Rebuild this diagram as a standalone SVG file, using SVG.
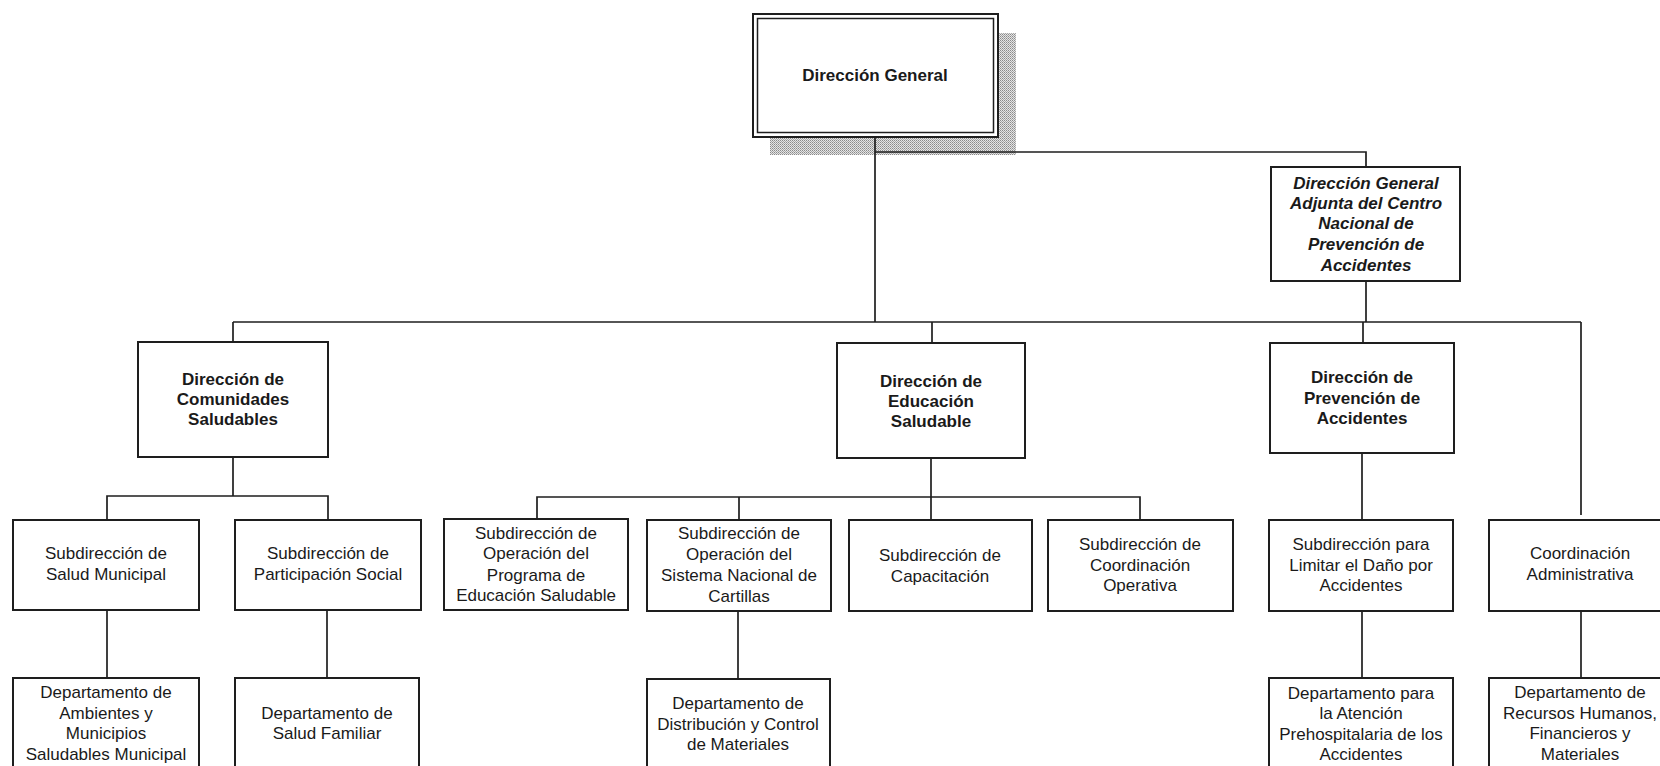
<svg xmlns="http://www.w3.org/2000/svg" width="1660" height="766" viewBox="0 0 1660 766">
  <defs>
    <!-- fine stipple used for the drop shadow of the head box -->
    <pattern id="stipple" width="2" height="2" patternUnits="userSpaceOnUse">
      <rect width="2" height="2" fill="#e4e4e4"/>
      <rect width="1" height="1" fill="#8a8a8a"/>
      <rect x="1" y="1" width="1" height="1" fill="#a8a8a8"/>
    </pattern>
  </defs>
  <style>
    .box { fill: #ffffff; stroke: #1e1e1e; stroke-width: 2; }
    .wire { fill: none; stroke: #1e1e1e; stroke-width: 1.7; }
    text { font-family: "Liberation Sans", Arial, sans-serif; font-size: 17px; fill: #1a1a1a; text-anchor: middle; }
    .b { font-weight: bold; }
    .bi { font-weight: bold; font-style: italic; }
  </style>

  <rect width="1660" height="766" fill="#ffffff"/>

  <!-- head box with shadow and double frame -->
  <g id="direccion-general">
    <rect x="770" y="33" width="246" height="122" fill="url(#stipple)"/>
    <rect class="box" x="753" y="14" width="245" height="123"/>
    <rect x="757.5" y="18.5" width="236" height="114" fill="none" stroke="#1e1e1e" stroke-width="1.5"/>
    <text class="b" x="875" y="81">Dirección General</text>
  </g>

  <!-- connectors -->
  <g id="connectors" class="wire">
    <path d="M875 137 V322"/>
    <path d="M875 152 H1366 V167"/>
    <path d="M1366 281 V322"/>
    <path d="M233 322 H1581"/>
    <path d="M233 322 V342"/>
    <path d="M932 322 V343"/>
    <path d="M1363 322 V343"/>
    <path d="M1581 322 V515"/>
    <!-- Comunidades branch -->
    <path d="M233 457 V496"/>
    <path d="M107 519 V496 H328 V519"/>
    <path d="M107 610 V678"/>
    <path d="M327 610 V678"/>
    <!-- Educación branch -->
    <path d="M931 458 V520"/>
    <path d="M537 519 V497 H1140 V520"/>
    <path d="M739 497 V520"/>
    <path d="M738 611 V679"/>
    <!-- Prevención branch -->
    <path d="M1362 453 V520"/>
    <path d="M1362 611 V678"/>
    <path d="M1581 611 V678"/>
  </g>

  <g id="adjunta">
    <rect class="box" x="1271" y="167" width="189" height="114"/>
    <text class="bi" x="1366" y="189">Dirección General</text>
    <text class="bi" x="1366" y="209">Adjunta del Centro</text>
    <text class="bi" x="1366" y="229">Nacional de</text>
    <text class="bi" x="1366" y="250">Prevención de</text>
    <text class="bi" x="1366" y="271">Accidentes</text>
  </g>

  <g id="comunidades">
    <rect class="box" x="138" y="342" width="190" height="115"/>
    <text class="b" x="233" y="385">Dirección de</text>
    <text class="b" x="233" y="405">Comunidades</text>
    <text class="b" x="233" y="425">Saludables</text>
  </g>

  <g id="educacion">
    <rect class="box" x="837" y="343" width="188" height="115"/>
    <text class="b" x="931" y="387">Dirección de</text>
    <text class="b" x="931" y="407">Educación</text>
    <text class="b" x="931" y="427">Saludable</text>
  </g>

  <g id="prevencion">
    <rect class="box" x="1270" y="343" width="184" height="110"/>
    <text class="b" x="1362" y="383">Dirección de</text>
    <text class="b" x="1362" y="404">Prevención de</text>
    <text class="b" x="1362" y="424">Accidentes</text>
  </g>

  <g id="salud-municipal">
    <rect class="box" x="13" y="520" width="186" height="90"/>
    <text x="106" y="559">Subdirección de</text>
    <text x="106" y="580">Salud Municipal</text>
  </g>

  <g id="participacion-social">
    <rect class="box" x="235" y="520" width="186" height="90"/>
    <text x="328" y="559">Subdirección de</text>
    <text x="328" y="580">Participación Social</text>
  </g>

  <g id="programa-educacion">
    <rect class="box" x="444" y="519" width="184" height="91"/>
    <text x="536" y="539">Subdirección de</text>
    <text x="536" y="559">Operación del</text>
    <text x="536" y="581">Programa de</text>
    <text x="536" y="601">Educación Saludable</text>
  </g>

  <g id="sistema-cartillas">
    <rect class="box" x="647" y="520" width="184" height="91"/>
    <text x="739" y="539">Subdirección de</text>
    <text x="739" y="560">Operación del</text>
    <text x="739" y="581">Sistema Nacional de</text>
    <text x="739" y="602">Cartillas</text>
  </g>

  <g id="capacitacion">
    <rect class="box" x="849" y="520" width="183" height="91"/>
    <text x="940" y="561">Subdirección de</text>
    <text x="940" y="582">Capacitación</text>
  </g>

  <g id="coordinacion-operativa">
    <rect class="box" x="1048" y="520" width="185" height="91"/>
    <text x="1140" y="550">Subdirección de</text>
    <text x="1140" y="571">Coordinación</text>
    <text x="1140" y="591">Operativa</text>
  </g>

  <g id="limitar-dano">
    <rect class="box" x="1269" y="520" width="184" height="91"/>
    <text x="1361" y="550">Subdirección para</text>
    <text x="1361" y="571">Limitar el Daño por</text>
    <text x="1361" y="591">Accidentes</text>
  </g>

  <g id="coordinacion-administrativa">
    <rect class="box" x="1489" y="520" width="182" height="91"/>
    <text x="1580" y="559">Coordinación</text>
    <text x="1580" y="580">Administrativa</text>
  </g>

  <g id="ambientes-municipios">
    <rect class="box" x="13" y="678" width="186" height="100"/>
    <text x="106" y="698">Departamento de</text>
    <text x="106" y="719">Ambientes y</text>
    <text x="106" y="739">Municipios</text>
    <text x="106" y="760">Saludables Municipal</text>
  </g>

  <g id="salud-familiar">
    <rect class="box" x="235" y="678" width="184" height="100"/>
    <text x="327" y="719">Departamento de</text>
    <text x="327" y="739">Salud Familiar</text>
  </g>

  <g id="distribucion-materiales">
    <rect class="box" x="647" y="679" width="183" height="100"/>
    <text x="738" y="709">Departamento de</text>
    <text x="738" y="730">Distribución y Control</text>
    <text x="738" y="750">de Materiales</text>
  </g>

  <g id="atencion-prehospitalaria">
    <rect class="box" x="1269" y="678" width="184" height="100"/>
    <text x="1361" y="699">Departamento para</text>
    <text x="1361" y="719">la Atención</text>
    <text x="1361" y="740">Prehospitalaria de los</text>
    <text x="1361" y="760">Accidentes</text>
  </g>

  <g id="recursos">
    <rect class="box" x="1489" y="678" width="182" height="100"/>
    <text x="1580" y="698">Departamento de</text>
    <text x="1580" y="719">Recursos Humanos,</text>
    <text x="1580" y="739">Financieros y</text>
    <text x="1580" y="760">Materiales</text>
  </g>
</svg>
